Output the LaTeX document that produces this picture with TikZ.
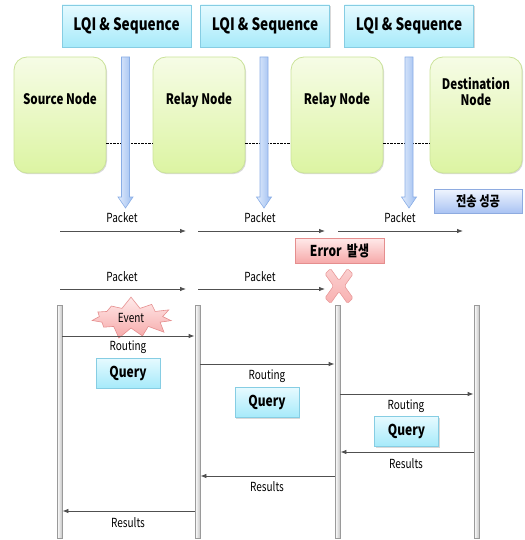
\documentclass[tikz,border=0pt]{standalone}
\usepackage{fontspec}
\setmainfont{Noto Sans CJK KR}[FakeStretch=0.8]
\usetikzlibrary{arrows.meta,shapes.symbols,shadows}
\definecolor{lqitop}{HTML}{E6FAFF}
\definecolor{lqibot}{HTML}{A6EAFA}
\definecolor{lqiborder}{HTML}{86CDE3}
\definecolor{ndtop}{HTML}{F6FCE6}
\definecolor{ndbot}{HTML}{DCF4A2}
\definecolor{ndborder}{HTML}{CBE39A}
\definecolor{barl}{HTML}{E2ECFC}
\definecolor{barr}{HTML}{9CBDF0}
\definecolor{barborder}{HTML}{8AAEE6}
\definecolor{oktop}{HTML}{F0F5FE}
\definecolor{okbot}{HTML}{A9C3F3}
\definecolor{okborder}{HTML}{8EABE0}
\definecolor{errtop}{HTML}{FFEAEA}
\definecolor{errbot}{HTML}{F6A9A9}
\definecolor{errborder}{HTML}{E58E8E}
\definecolor{xfill}{HTML}{F8B0B0}
\definecolor{lifeborder}{HTML}{9A9A9A}
\definecolor{arrowc}{HTML}{505050}
\tikzset{
  sh/.style={drop shadow={shadow xshift=1pt,shadow yshift=-1.2pt,opacity=0.25,fill=black!60}},
  lqibox/.style={draw=lqiborder,line width=0.8pt,top color=lqitop,bottom color=lqibot,
    minimum width=129pt,minimum height=42pt,inner sep=0pt,sh,font=\bfseries\fontsize{17}{19}\selectfont},
  nodebox/.style={draw=ndborder,line width=0.8pt,top color=ndtop,bottom color=ndbot,
    rounded corners=13pt,minimum width=92pt,minimum height=116pt,inner sep=0pt,sh,
    align=center,font=\bfseries\fontsize{14.5}{17}\selectfont},
  querybox/.style={draw=lqiborder,line width=0.7pt,top color=lqitop,bottom color=lqibot,
    minimum width=64pt,minimum height=30pt,inner sep=0pt,sh,font=\bfseries\fontsize{15}{17}\selectfont},
  okbox/.style={draw=okborder,line width=0.8pt,top color=oktop,bottom color=okbot,
    minimum width=88pt,minimum height=24pt,inner sep=0pt,sh,font=\bfseries\fontsize{14}{16}\selectfont},
  errbox/.style={draw=errborder,line width=0.8pt,top color=errtop,bottom color=errbot,
    minimum width=89pt,minimum height=25pt,inner sep=0pt,sh,font=\bfseries\fontsize{15}{17}\selectfont},
  lbl/.style={inner sep=0pt,font=\fontsize{12.5}{14}\selectfont},
  msg/.style={draw=arrowc,line width=0.8pt,-{Latex[length=6pt,width=4.5pt]}},
  life/.style={draw=lifeborder,line width=0.8pt,left color=white,right color=black!22,
    minimum width=5pt,minimum height=233pt,inner sep=0pt},
  bararrow/.style={draw=barborder,line width=0.6pt,left color=barl,right color=barr},
  dashline/.style={draw=black,line width=0.7pt,dash pattern=on 2.2pt off 1.3pt},
}
\begin{document}
\begin{tikzpicture}[x=1pt,y=-1pt]
\useasboundingbox (0,0) rectangle (524,540);

% LQI boxes
\node[lqibox] (lqi1) at (126.5,26) {LQI \& Sequence};
\node[lqibox] (lqi2) at (265,26) {LQI \& Sequence};
\node[lqibox] (lqi3) at (409,26) {LQI \& Sequence};

% nodes
\node[nodebox] (src) at (60,115) {\raisebox{32pt}{Source Node}};
\node[nodebox] (rel1) at (199,115) {\raisebox{32pt}{Relay Node}};
\node[nodebox] (rel2) at (337,115) {\raisebox{32pt}{Relay Node}};
\node[nodebox] (dst) at (476,115) {\raisebox{47pt}{\shortstack{Destination\\[1.5pt]Node}}};

% dashed links
\draw[dashline] (src.east |- 0,143) -- (rel1.west |- 0,143);
\draw[dashline] (rel1.east |- 0,143) -- (rel2.west |- 0,143);
\draw[dashline] (rel2.east |- 0,143) -- (dst.west |- 0,143);

% blue downward bars
\foreach \i/\x in {1/125.5,2/264,3/409}{
  \coordinate (bt\i) at (\x,57);
  \draw[bararrow] (\x-4,57) -- (\x+4,57) -- (\x+4,197) -- (\x+7.5,197) -- (\x,208)
     -- (\x-7.5,197) -- (\x-4,197) -- cycle;
}

% success box
\node[okbox] (ok) at (478,201) {전송 성공};

% packet row 1
\node[lbl] (p1) at (122,218) {Packet};
\node[lbl] (p2) at (260,218) {Packet};
\node[lbl] (p3) at (400,218) {Packet};
\coordinate (a1s) at (60,231); \coordinate (a1e) at (186,231);
\coordinate (a2s) at (198,231); \coordinate (a2e) at (325,231);
\coordinate (a3s) at (338,231); \coordinate (a3e) at (463,231);
\draw[msg] (a1s) -- (a1e);
\draw[msg] (a2s) -- (a2e);
\draw[msg] (a3s) -- (a3e);

% error box
\node[errbox] (err) at (339.5,250.5) {Error\, 발생};

% packet row 2
\node[lbl] (p4) at (122,277) {Packet};
\node[lbl] (p5) at (260,277) {Packet};
\coordinate (b1s) at (60,289); \coordinate (b1e) at (186,289);
\coordinate (b2s) at (198,289); \coordinate (b2e) at (325,289);
\draw[msg] (b1s) -- (b1e);
\draw[msg] (b2s) -- (b2e);

% red X
\coordinate (xc) at (339,286);
\begin{scope}[shift={(xc)}]
\draw[draw=errborder!90,line width=0.6pt,top color=xfill!60,bottom color=xfill,rounded corners=1.5pt]
  (0,-5.5) -- (8.5,-17.5) -- (14,-12) -- (5.5,0) -- (14,12) -- (8.5,17.5)
  -- (0,5.5) -- (-8.5,17.5) -- (-14,12) -- (-5.5,0) -- (-14,-12) -- (-8.5,-17.5) -- cycle;
\end{scope}

% lifelines
\node[life] (L1) at (59.5,421.5) {};
\node[life] (L2) at (197.5,421.5) {};
\node[life] (L3) at (337.5,421.5) {};
\node[life] (L4) at (476.5,421.5) {};

% event
\node[starburst,starburst points=11,starburst point height=12pt,random starburst=7,
  draw=errborder,line width=0.6pt,top color=errtop,bottom color=errbot,
  minimum width=88pt,minimum height=44pt,inner sep=0pt,font=\fontsize{12.5}{14}\selectfont]
  (ev) at (131,318) {Event};

% routing messages
\draw[msg] (L1.east |- 0,336) -- (L2.west |- 0,336);
\node[lbl] (r1) at (128,347) {Routing};
\node[querybox] (q1) at (128,373) {Query};

\draw[msg] (L2.east |- 0,364) -- (L3.west |- 0,364);
\node[lbl] (r2) at (267,376) {Routing};
\node[querybox] (q2) at (267,402.5) {Query};

\draw[msg] (L3.east |- 0,394) -- (L4.west |- 0,394);
\node[lbl] (r3) at (406,406) {Routing};
\node[querybox] (q3) at (406.5,431.5) {Query};

% results
\draw[msg] (L4.west |- 0,452) -- (L3.east |- 0,452);
\node[lbl] (s1) at (406,464) {Results};
\draw[msg] (L3.west |- 0,476) -- (L2.east |- 0,476);
\node[lbl] (s2) at (267,487) {Results};
\draw[msg] (L2.west |- 0,511) -- (L1.east |- 0,511);
\node[lbl] (s3) at (128,523) {Results};
\end{tikzpicture}
\end{document}
